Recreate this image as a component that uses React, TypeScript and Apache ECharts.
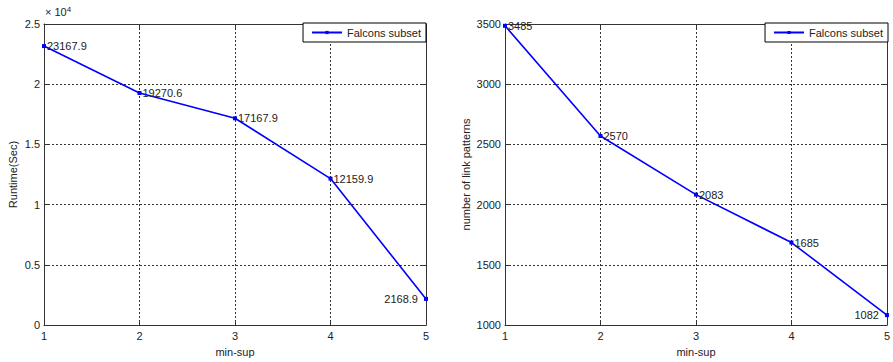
import React, { useEffect, useRef } from "react";
import * as echarts from "echarts";

const minSup = [1, 2, 3, 4, 5];
const runtimeSec = [23167.9, 19270.6, 17167.9, 12159.9, 2168.9];
const linkPatterns = [3485, 2570, 2083, 1685, 1082];
const seriesName = "Falcons subset";

const FONT = "'Liberation Sans', Arial, sans-serif";
const TXT = "#222";

function xAxisCfg(gridIndex: number) {
  return [
    {
      type: "value",
      gridIndex,
      min: 1,
      max: 5,
      interval: 1,
      name: "min-sup",
      nameLocation: "middle",
      nameGap: 21,
      nameTextStyle: { fontFamily: FONT, fontSize: 11, color: TXT },
      axisLine: { show: true, onZero: false, lineStyle: { color: "#333", width: 1 } },
      axisTick: { show: true, inside: true, length: 4, lineStyle: { color: "#333" } },
      axisLabel: { fontFamily: FONT, fontSize: 11, color: TXT, margin: 5 },
      splitLine: { show: true, lineStyle: { color: "#333", type: [2, 2], width: 1 } },
    },
    {
      type: "value",
      gridIndex,
      position: "top",
      min: 1,
      max: 5,
      interval: 1,
      axisLine: { show: true, onZero: false, lineStyle: { color: "#333", width: 1 } },
      axisTick: { show: true, inside: true, length: 4, lineStyle: { color: "#333" } },
      axisLabel: { show: false },
      splitLine: { show: false },
    },
  ];
}

function yAxisCfg(gridIndex: number, min: number, max: number, interval: number, name: string, nameGap: number, fmt: (v: number) => string) {
  return [
    {
      type: "value",
      gridIndex,
      min,
      max,
      interval,
      name,
      nameLocation: "middle",
      nameGap,
      nameTextStyle: { fontFamily: FONT, fontSize: 11, color: TXT },
      axisLine: { show: true, onZero: false, lineStyle: { color: "#333", width: 1 } },
      axisTick: { show: true, inside: true, length: 4, lineStyle: { color: "#333" } },
      axisLabel: { fontFamily: FONT, fontSize: 11, color: TXT, margin: 4, formatter: fmt },
      splitLine: { show: true, lineStyle: { color: "#333", type: [2, 2], width: 1 } },
    },
    {
      type: "value",
      gridIndex,
      position: "right",
      min,
      max,
      interval,
      axisLine: { show: true, onZero: false, lineStyle: { color: "#333", width: 1 } },
      axisTick: { show: true, inside: true, length: 4, lineStyle: { color: "#333" } },
      axisLabel: { show: false },
      splitLine: { show: false },
    },
  ];
}

function seriesCfg(values: number[], xi: number, yi: number, fmt: (v: number) => string) {
  return {
    type: "line",
    name: seriesName,
    xAxisIndex: xi,
    yAxisIndex: yi,
    data: minSup.map((x, i) => {
      const last = i === minSup.length - 1;
      return {
        value: [x, values[i]],
        label: {
          show: true,
          position: last ? "left" : "right",
          distance: last ? 6 : 1,
          formatter: () => fmt(values[i]),
          fontFamily: FONT,
          fontSize: 11,
          color: TXT,
        },
      };
    }),
    lineStyle: { color: "#0000ff", width: 1.6 },
    itemStyle: { color: "#0000ff" },
    symbol: "rect",
    symbolSize: 4,
    showSymbol: true,
  };
}

const legendBase = {
  data: [seriesName],
  orient: "horizontal",
  top: 23,
  backgroundColor: "#fff",
  borderColor: "#000",
  borderWidth: 1,
  borderRadius: 0,
  padding: [4, 5, 4, 8],
  itemWidth: 30,
  itemHeight: 4,
  itemGap: 4,
  textStyle: { fontFamily: FONT, fontSize: 11, color: TXT },
};

export default function App() {
  const ref = useRef<HTMLDivElement>(null);
  useEffect(() => {
    if (!ref.current) return;
    const chart = echarts.init(ref.current, null, { renderer: "svg" });
    chart.setOption({
      animation: false,
      backgroundColor: "#fff",
      grid: [
        { left: 44, top: 24, width: 382, height: 302, containLabel: false },
        { left: 505, top: 24, width: 383, height: 302, containLabel: false },
      ],
      xAxis: [...xAxisCfg(0), ...xAxisCfg(1)],
      yAxis: [
        ...yAxisCfg(0, 0, 25000, 5000, "Runtime(Sec)", 26, (v: number) => String(v / 10000)),
        ...yAxisCfg(1, 1000, 3500, 500, "number of link patterns", 34, (v: number) => String(v)),
      ],
      legend: [
        { ...legendBase, right: 467 },
        { ...legendBase, right: 5 },
      ],
      graphic: [
        {
          type: "text",
          left: 45,
          top: 5,
          style: {
            text: "× 10{sup|4}",
            fontFamily: FONT,
            fontSize: 11,
            fill: TXT,
            rich: {
              sup: { fontSize: 8, fontFamily: FONT, fill: TXT, verticalAlign: "top", padding: [0, 0, 6, 0] },
            },
          },
        },
      ],
      series: [
        seriesCfg(runtimeSec, 0, 0, (v) => v.toFixed(1)),
        seriesCfg(linkPatterns, 2, 2, (v) => String(v)),
      ],
    });
    return () => chart.dispose();
  }, []);
  return <div ref={ref} style={{ width: 893, height: 362, position: "absolute", left: 0, top: 0 }} />;
}
